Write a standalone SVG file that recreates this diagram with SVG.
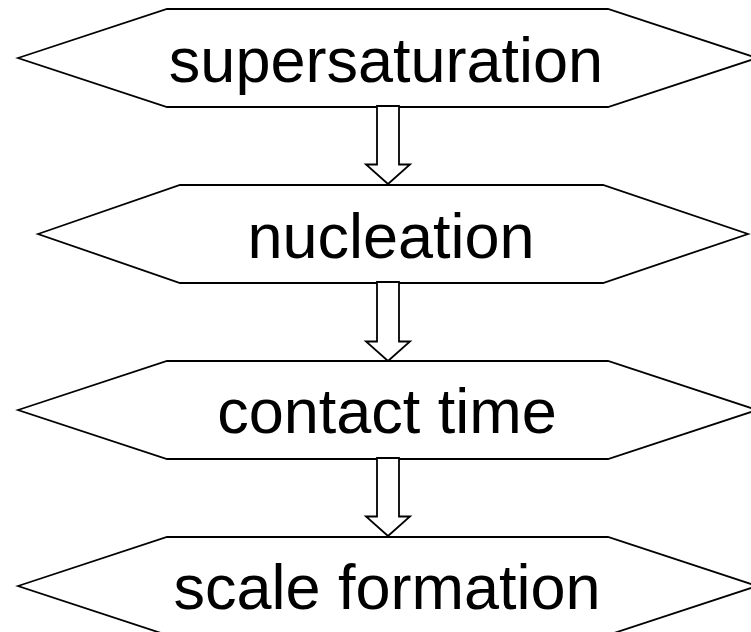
<svg xmlns="http://www.w3.org/2000/svg" width="751" height="632" viewBox="0 0 751 632">
<style>
.hex{fill:#fff;stroke:#000;stroke-width:1.8;stroke-linejoin:miter}
.arr{fill:#fff;stroke:#000;stroke-width:1.8;stroke-linejoin:miter}
.lbl{font-family:"Liberation Sans",Arial,sans-serif;font-size:63px;fill:#000;text-anchor:middle}
</style>
<rect width="751" height="632" fill="#fff"/>
<g id="node-supersaturation">
<polygon class="hex" points="18,58 167,9 608,9 757,58 608,107 167,107"/>
<text class="lbl" x="386" y="81.5">supersaturation</text>
</g>
<g id="node-nucleation">
<polygon class="hex" points="38,234 180,185 603,185 748,234 603,283 180,283"/>
<text class="lbl" x="391" y="258">nucleation</text>
</g>
<g id="node-contact-time">
<polygon class="hex" points="18,410 167,361 608,361 757,410 608,459 167,459"/>
<text class="lbl" x="387" y="433">contact time</text>
</g>
<g id="node-scale-formation">
<polygon class="hex" points="18,586 167,537 608,537 757,586 608,635 167,635"/>
<text class="lbl" x="387" y="609">scale formation</text>
</g>
<g id="connectors">
<polygon class="arr" points="377,106 399,106 399,164.5 410,164.5 388,184 366,164.5 377,164.5"/>
<polygon class="arr" points="377,282 399,282 399,341.5 410,341.5 388,361 366,341.5 377,341.5"/>
<polygon class="arr" points="377,458 399,458 399,516.5 410,516.5 388,536 366,516.5 377,516.5"/>
</g>
</svg>
